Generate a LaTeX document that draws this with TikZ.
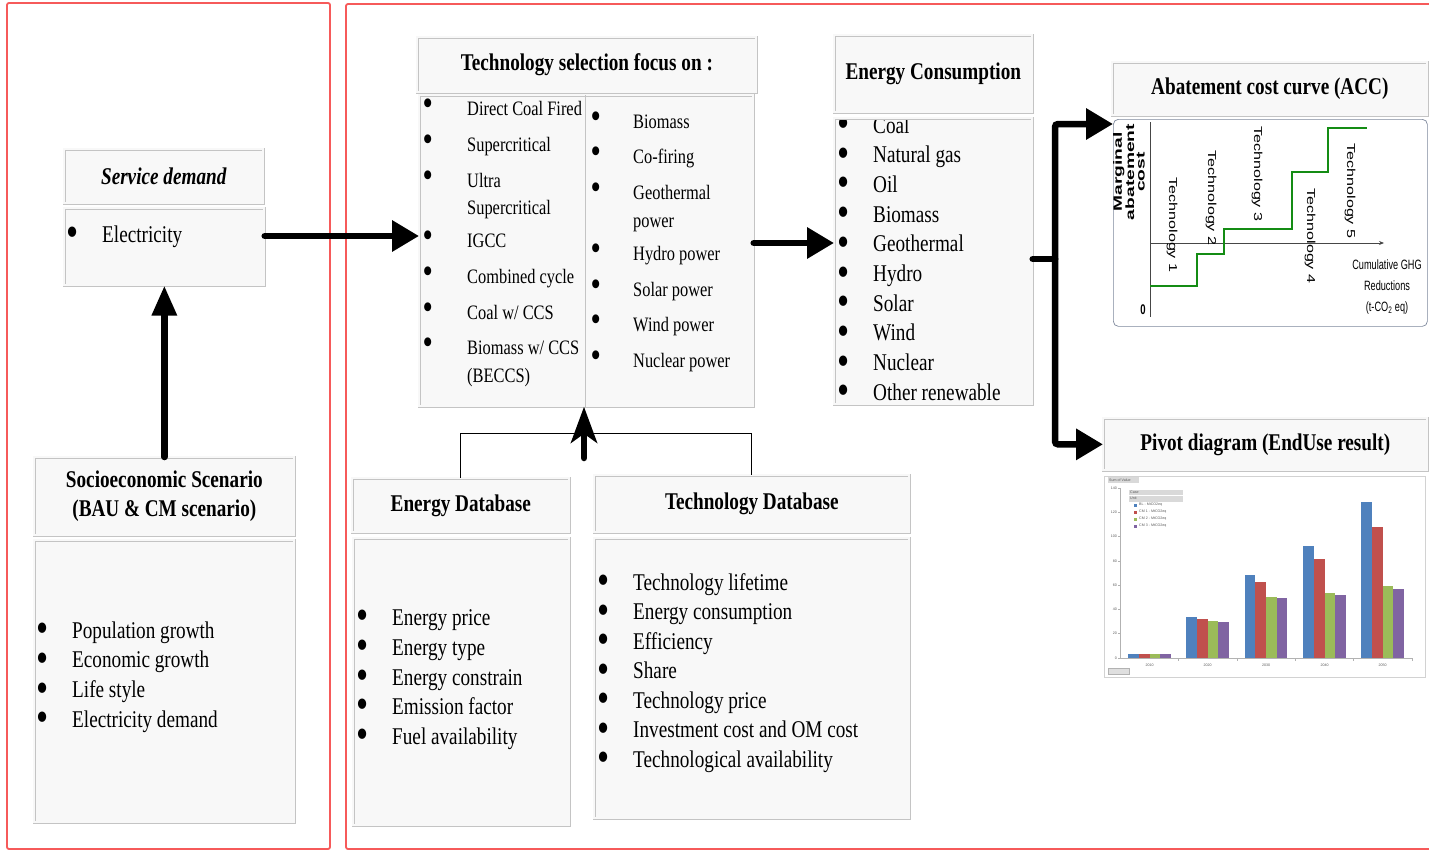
\documentclass[tikz,border=0pt]{standalone}
\usepackage{fontspec}
\setmainfont{Liberation Serif}[FakeStretch=0.8]
\setsansfont{Liberation Sans}
\newfontfamily\condsans{Liberation Sans}[FakeStretch=0.68]
\usetikzlibrary{arrows.meta,calc}
\definecolor{frame}{RGB}{246,90,90}
\definecolor{boxfill}{RGB}{248,248,248}
\definecolor{boxline}{RGB}{196,196,196}
\definecolor{xblue}{RGB}{79,129,189}
\definecolor{xred}{RGB}{192,80,77}
\definecolor{xgreen}{RGB}{155,187,89}
\definecolor{xpurple}{RGB}{128,100,162}
\definecolor{curvegreen}{RGB}{20,140,20}
\definecolor{chartline}{RGB}{125,135,155}
\tikzset{
  panel/.style={draw=boxline, line width=0.7pt, double=boxfill, double distance=2.2pt, fill=boxfill, inner sep=0pt, anchor=north west, align=center},
  ttl/.style={font=\fontsize{24}{29}\selectfont\bfseries},
  itemA/.style={anchor=base west, inner sep=0pt, font=\fontsize{24}{29}\selectfont},
  itemB/.style={anchor=base west, inner sep=0pt, font=\fontsize{20.5}{25}\selectfont},
  redframe/.style={draw=frame, line width=1.8pt, rounded corners=2pt},
  bigarrow/.style={line width=6.5pt, line cap=round, rounded corners=3pt, -{Triangle[length=27pt,width=30pt]}},
  thinlink/.style={draw=black, line width=0.9pt},
  tinylab/.style={font=\sffamily\fontsize{3.6}{4}\selectfont, text=gray!70!black, inner sep=0pt},
  techlab/.style={rotate=-90, font=\sffamily\fontsize{11.5}{12}\selectfont, inner sep=0pt},
}
\newcommand\pbox[7][]{\node[panel, #1, minimum width={#5-#3}, minimum height={#6-#4}] (#2) at (#3,#4) {#7};}
\newcommand\bu[1]{\makebox[#1][l]{\smash{\raisebox{-4.5pt}{\scalebox{1.8}{\textbullet}}}}}
\newcommand\bur[1]{\makebox[#1][l]{\smash{\raisebox{-0.5pt}{\scalebox{1.8}{\textbullet}}}}}
\begin{document}
\begin{tikzpicture}[x=1pt,y=-1pt]
\useasboundingbox (0,0) rectangle (1429,851);
% red frames
\draw[redframe] (7,3) rectangle (330,849);
\draw[redframe] (346,4) rectangle (1460,849);

% panels
\pbox[ttl]{sdt}{64}{149}{263}{203}{\textit{Service demand}}
\pbox{sdc}{64}{208}{264}{285}{}
\pbox[ttl]{sot}{34}{457}{294}{535}{Socioeconomic Scenario\\(BAU \& CM scenario)}
\pbox{soc}{34}{540}{294}{822}{}
\pbox[ttl]{tst}{417}{37}{756}{92}{Technology selection focus on :}
\pbox{tsc}{419}{95}{753}{406}{}
\pbox[ttl]{ect}{834}{35}{1032}{112}{Energy Consumption}
\pbox{ecc}{834}{118}{1032}{404}{}
\pbox[ttl]{acct}{1112}{62}{1427}{115}{Abatement cost curve (ACC)}
\pbox[ttl]{pvt}{1103}{418}{1427}{470}{Pivot diagram (EndUse result)}
\pbox[ttl]{edt}{352}{478}{569}{532}{Energy Database}
\pbox{edc}{353}{538}{569}{825}{}
\pbox[ttl]{tdt}{594}{475}{909}{532}{Technology Database}
\pbox{tdc}{594}{538}{909}{818}{}
\draw[boxline, line width=1pt] (tsc.north -| 585,0) -- (tsc.south -| 585,0);

% lists
\node[itemA] (sd1) at (66,242) {\bu{36pt}Electricity};
\foreach \y/\t [count=\i] in {638/Population growth, 667.5/Economic growth, 697.5/Life style, 727/Electricity demand}
  {\node[itemA] (so\i) at (36,\y) {\bu{36pt}\t};}
\foreach \y/\t [count=\i] in {625/Energy price, 655/Energy type, 685/Energy constrain, 714/Emission factor, 744/Fuel availability}
  {\node[itemA] (ed\i) at (356,\y) {\bu{36pt}\t};}
\foreach \y/\t [count=\i] in {590/Technology lifetime, 619.5/Energy consumption, 649/Efficiency, 678.5/Share, 708/Technology price, 737.5/Investment cost and OM cost, 767/Technological availability}
  {\node[itemA] (td\i) at (597,\y) {\bu{36pt}\t};}
\begin{scope}
\clip (834,120) rectangle (1032,404);
\foreach \t [count=\i] in {Coal, Natural gas, Oil, Biomass, Geothermal, Hydro, Solar, Wind, Nuclear, Other renewable}
  {\node[itemA] (ec\i) at (837,{133+29.7*(\i-1)}) {\bu{36pt}\t};}
\end{scope}
\foreach \y/\t [count=\i] in {115/{Direct Coal Fired}, 151/{Supercritical}, 187/{Ultra}, 247/{IGCC}, 283/{Combined cycle}, 319/{Coal w/ CCS}, 354/{Biomass w/ CCS}}
  {\node[itemB] (tl\i) at (422.5,\y) {\bur{44.5pt}\t};}
\node[itemB] (tl8) at (467,214) {Supercritical};
\node[itemB] (tl9) at (467,382) {(BECCS)};
\foreach \y/\t [count=\i] in {128/Biomass, 163/Co-firing, 199/Geothermal, 260/Hydro power, 296/Solar power, 331/Wind power, 367/Nuclear power}
  {\node[itemB] (tr\i) at (590.5,\y) {\bur{42.5pt}\t};}
\node[itemB] (tr8) at (633,227) {power};

% ACC chart
\node[draw=chartline, line width=0.7pt, rounded corners=5pt, minimum width=314, minimum height=207, anchor=north west, inner sep=0pt] (accb) at (1113,119) {};
\draw[gray!55!black, line width=1pt] (1150,122) -- (1150,317);
\draw[gray!55!black, line width=1pt, -{Stealth[length=5pt,width=4pt]}] (1150,243) -- (1384,243);
\draw[curvegreen, line width=1.6pt] (1150,286) -- (1197,286) -- (1197,254) -- (1224,254) -- (1224,229) -- (1292,229) -- (1292,172) -- (1328,172) -- (1328,128) -- (1367,128);
\node[rotate=90, font=\sffamily\bfseries\fontsize{12}{10.5}\selectfont, align=center, inner sep=0pt] (mac) at (1129,172) {\scalebox{1.6}[1]{Marginal}\\\scalebox{1.6}[1]{abatement}\\\scalebox{1.6}[1]{cost}};
\node[techlab] (t1) at (1172,225) {\scalebox{1.4}[1]{Technology 1}};
\node[techlab] (t2) at (1211,198) {\scalebox{1.4}[1]{Technology 2}};
\node[techlab] (t3) at (1257,174) {\scalebox{1.4}[1]{Technology 3}};
\node[techlab] (t4) at (1310,236) {\scalebox{1.4}[1]{Technology 4}};
\node[techlab] (t5) at (1350,191) {\scalebox{1.4}[1]{Technology 5}};
\node[font=\condsans\bfseries\fontsize{14}{14}\selectfont, inner sep=0pt] (zero) at (1143,310) {0};
\node[font=\condsans\fontsize{13.5}{21}\selectfont, align=center, inner sep=0pt] (cum) at (1387,287) {Cumulative GHG\\Reductions\\(t-CO\textsubscript{2} eq)};

% Pivot chart
\node[draw=gray!35, line width=0.8pt, minimum width=321, minimum height=201, anchor=north west, inner sep=0pt] (pvb) at (1104,476) {};
\fill[gray!30] (1108,477) rectangle (1139,483);
\node[tinylab, anchor=west] (sov) at (1109,480) {Sum of Value};
\fill[gray!30] (1129,490) rectangle (1183,494.5);
\node[tinylab, anchor=west] (cas) at (1130,492.3) {Case};
\fill[gray!30] (1129,495.5) rectangle (1183,502);
\node[tinylab, anchor=west] (uni) at (1130,498.5) {Unit};
\foreach \col/\lab [count=\k] in {xblue/BL - MtCO2eq, xred/CM 1 - MtCO2eq, xgreen/CM 2 - MtCO2eq, xpurple/CM 3 - MtCO2eq}
  {\fill[\col] (1134,{503.5+7*(\k-1)}) rectangle ++(3,3);
   \node[tinylab, anchor=west] (lg\k) at (1139,{505+7*(\k-1)}) {\lab};}
\foreach \cx/\yr/\a/\b/\c/\d [count=\k] in {1149.5/2010/3.6/3.6/3.6/3.6, 1207.5/2020/33.8/32/30.3/29.6, 1266/2030/68/62.8/50/49.5, 1324.5/2040/92/81.3/53.3/52, 1382.5/2050/128.3/108/59/56.6}
  {\fill[xblue] ({\cx-21.2},658) rectangle ({\cx-10.6},{658-\a*1.2143});
   \fill[xred] ({\cx-10.6},658) rectangle (\cx,{658-\b*1.2143});
   \fill[xgreen] (\cx,658) rectangle ({\cx+10.6},{658-\c*1.2143});
   \fill[xpurple] ({\cx+10.6},658) rectangle ({\cx+21.2},{658-\d*1.2143});
   \node[tinylab] (yr\k) at (\cx,665) {\yr};}
\draw[gray!60, line width=0.5pt] (1120,488) -- (1120,658) -- (1412,658);
\foreach \v [count=\k] in {0,20,...,140}
  {\draw[gray!60, line width=0.5pt] (1118,{658-\v*1.2143}) -- (1120,{658-\v*1.2143});
   \node[tinylab, anchor=east] (yl\k) at (1117,{658-\v*1.2143}) {\v};}
\foreach \x in {1178.5,1237,1295.5,1353.5,1412}
  {\draw[gray!60, line width=0.5pt] (\x,658) -- (\x,661);}
\fill[gray!25] (1108,668) rectangle (1129,674);
\draw[gray!60, line width=0.4pt] (1108,668) rectangle (1129,674);

% connectors
\draw[bigarrow] (sdc.east |- 0,236) -- (tsc.west |- 0,236);
\draw[bigarrow, -{Triangle[length=30pt,width=24pt]}] (sot.north) -- (sdc.south);
\draw[bigarrow] (tsc.east |- 0,243) -- (ecc.west |- 0,243);
\coordinate (br) at (1055,259);
\draw[bigarrow, -] (ecc.east |- br) -- (br);
\draw[bigarrow] (br) |- (accb.west |- 0,124);
\draw[bigarrow] (br) |- (pvt.west);
\draw[thinlink] (edt.north) -- ++(0,-45) -| (tdt.north);
\coordinate (dbs) at (584,458);
\draw[line width=6.5pt, line cap=round, -{Stealth[length=36pt,width=26pt,inset=9pt]}] (dbs) -- (dbs |- tsc.south);
\end{tikzpicture}
\end{document}
